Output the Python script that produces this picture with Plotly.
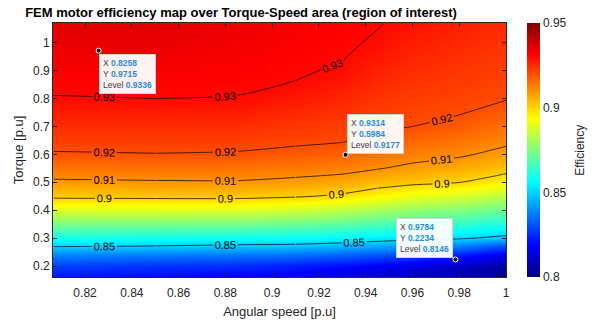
import plotly.graph_objects as go

# ---------------- data ----------------
speed = [0.8065, 0.85, 0.885, 0.91, 0.93, 0.945, 0.96, 0.98, 1.0]
torque = [0.16, 0.20, 0.24, 0.27, 0.30, 0.35, 0.40, 0.45, 0.50, 0.55,
          0.60, 0.65, 0.70, 0.75, 0.80, 0.85, 0.90, 0.95, 1.00, 1.07]

# efficiency per speed column (bottom -> top)
col_0806 = [0.822, 0.828, 0.838, 0.8503, 0.8592, 0.8741, 0.8890, 0.9018, 0.9088, 0.9142,
            0.9194, 0.9222, 0.9247, 0.9272, 0.9297, 0.9310, 0.9321, 0.9332, 0.9343, 0.9358]
col_0850 = [0.820, 0.826, 0.837, 0.8494, 0.8586, 0.8739, 0.8893, 0.9021, 0.9093, 0.9146,
            0.9198, 0.9224, 0.9249, 0.9275, 0.9300, 0.9311, 0.9322, 0.9333, 0.9344, 0.9356]
col_0885 = [0.818, 0.825, 0.836, 0.8480, 0.8578, 0.8734, 0.8891, 0.9022, 0.9094, 0.9145,
            0.9194, 0.9222, 0.9248, 0.9273, 0.9298, 0.9307, 0.9315, 0.9322, 0.9330, 0.9340]
col_0910 = [0.816, 0.823, 0.835, 0.8475, 0.8571, 0.8720, 0.8869, 0.9009, 0.9081, 0.9135,
            0.9181, 0.9213, 0.9234, 0.9255, 0.9277, 0.9298, 0.9305, 0.9311, 0.9317, 0.9325]
col_0930 = [0.813, 0.820, 0.833, 0.8457, 0.8557, 0.8700, 0.8843, 0.8986, 0.9066, 0.9124,
            0.9169, 0.9205, 0.9223, 0.9241, 0.9259, 0.9277, 0.9295, 0.9303, 0.9308, 0.9315]
col_0945 = [0.811, 0.818, 0.831, 0.8437, 0.8541, 0.8676, 0.8811, 0.8946, 0.9040, 0.9104,
            0.9144, 0.9184, 0.9209, 0.9223, 0.9237, 0.9251, 0.9266, 0.9280, 0.9294, 0.9303]
col_0960 = [0.808, 0.815, 0.829, 0.8416, 0.8526, 0.8655, 0.8784, 0.8912, 0.9020, 0.9084,
            0.9127, 0.9164, 0.9200, 0.9212, 0.9224, 0.9236, 0.9248, 0.9260, 0.9271, 0.9288]
col_0980 = [0.804, 0.8107, 0.8228, 0.8376, 0.8512, 0.8635, 0.8758, 0.8882, 0.9002, 0.9060,
            0.9111, 0.9146, 0.9181, 0.9204, 0.9214, 0.9224, 0.9234, 0.9244, 0.9254, 0.9268]
col_1000 = [0.801, 0.806, 0.816, 0.830, 0.8477, 0.8605, 0.8721, 0.8837, 0.8953, 0.9029,
            0.9077, 0.9117, 0.9148, 0.9180, 0.9203, 0.9212, 0.9221, 0.9229, 0.9238, 0.9250]

columns = [col_0806, col_0850, col_0885, col_0910, col_0930,
           col_0945, col_0960, col_0980, col_1000]
# z[row=torque][col=speed]
eff = [[columns[j][i] for j in range(len(speed))] for i in range(len(torque))]

line_levels = [0.85, 0.90, 0.91, 0.92, 0.93]

# data tips
tip_x = [0.8258, 0.9314, 0.9784]
tip_y = [0.9715, 0.5984, 0.2234]
tip_level = [0.9336, 0.9177, 0.8146]

x_ticks = [0.82, 0.84, 0.86, 0.88, 0.90, 0.92, 0.94, 0.96, 0.98, 1.0]
x_ticktext = ["0.82", "0.84", "0.86", "0.88", "0.9", "0.92", "0.94", "0.96", "0.98", "1"]
y_ticks = [0.2, 0.3, 0.4, 0.5, 0.6, 0.7, 0.8, 0.9, 1.0]
y_ticktext = ["0.2", "0.3", "0.4", "0.5", "0.6", "0.7", "0.8", "0.9", "1"]
cb_ticks = [0.80, 0.85, 0.90, 0.95]
cb_ticktext = ["0.8", "0.85", "0.9", "0.95"]

# ---------------- figure ----------------
FONT = "Liberation Sans, Arial, sans-serif"
TXT = "#262626"

jet = [[0.0, "rgb(0,0,128)"], [0.125, "rgb(0,0,255)"], [0.375, "rgb(0,255,255)"],
       [0.625, "rgb(255,255,0)"], [0.875, "rgb(255,0,0)"], [1.0, "rgb(128,0,0)"]]

fig = go.Figure()

fig.add_trace(go.Heatmap(
    x=speed, y=torque, z=eff, zmin=0.8, zmax=0.95, colorscale=jet,
    zsmooth="best", hoverinfo="skip",
    colorbar=dict(
        x=1.0464, xanchor="left", xref="paper", xpad=0, ypad=0,
        thickness=13, len=1.0, y=0.5, yanchor="middle", outlinewidth=0,
        tickvals=cb_ticks, ticktext=cb_ticktext, ticks="",
        tickfont=dict(family=FONT, size=12, color=TXT),
    ),
))

# contour lines drawn per level and per column segment so each stretch carries a label
segments_for_level = {
    0.85: [(0, 1), (1, 3), (3, 6), (6, 8)],
    0.90: [(0, 1), (1, 3), (3, 5), (5, 8)],
    0.91: [(0, 1), (1, 3), (3, 5), (5, 8)],
    0.92: [(0, 1), (1, 3), (3, 5), (5, 8)],
    0.93: [(0, 1), (1, 3), (3, 6), (6, 8)],
}
for lev in line_levels:
    for a, b in segments_for_level[lev]:
        xs = speed[a:b + 1]
        zs = [row[a:b + 1] for row in eff]
        fig.add_trace(go.Contour(
            x=xs, y=torque, z=zs, showscale=False, hoverinfo="skip",
            autocontour=False,
            contours=dict(start=lev, end=lev, size=0.01, coloring="none",
                          showlabels=True,
                          labelfont=dict(family=FONT, size=11, color="black")),
            line=dict(color="black", width=0.7, smoothing=0.6),
        ))

# data-tip points (on the overlay axis that carries the inside ticks)
fig.add_trace(go.Scatter(
    x=tip_x, y=tip_y, xaxis="x2", mode="markers", hoverinfo="skip",
    marker=dict(size=5, color="black", line=dict(color="white", width=1)),
))

anchors = [("left", "top", 0, -3), ("left", "bottom", 1, 1), ("right", "bottom", -2, 1)]
for (tx, ty, tl), (xa, ya, xs_, ys_) in zip(zip(tip_x, tip_y, tip_level), anchors):
    blue = "<span style='color:#1f8de0'><b>%s</b></span>"
    text = ("X " + blue % f"{tx:.4f}" + "<br>Y " + blue % f"{ty:.4f}"
            + "<br>Level " + blue % f"{tl:.4f}")
    fig.add_annotation(
        x=tx, y=ty, xref="x", yref="y", text=text, showarrow=False,
        xanchor=xa, yanchor=ya, xshift=xs_, yshift=ys_, align="left",
        bgcolor="rgba(255,255,255,0.95)", bordercolor="#d0d0d0", borderwidth=1,
        borderpad=3, font=dict(family=FONT, size=8.5, color="#404040"),
    )

fig.add_annotation(
    text="Efficiency", xref="paper", yref="paper", x=1.163, y=0.5,
    xanchor="center", yanchor="middle", textangle=-90, showarrow=False,
    font=dict(family=FONT, size=12, color=TXT),
)

tickfont = dict(family=FONT, size=12, color=TXT)
XRANGE = [0.8063, 1.0]

fig.update_layout(
    width=606, height=322,
    margin=dict(l=53, r=100, t=23, b=45, autoexpand=False),
    paper_bgcolor="white", plot_bgcolor="white",
    showlegend=False,
    title=dict(text="<b>FEM motor efficiency map over Torque-Speed area (region of interest)</b>",
               x=241 / 606, xref="container", xanchor="center",
               y=1 - 12 / 322, yref="container", yanchor="middle",
               font=dict(family=FONT, size=13, color="black")),
    # labelled x axis: invisible outside ticks push the labels down a little
    xaxis=dict(range=XRANGE, tickvals=x_ticks, ticktext=x_ticktext, automargin=False,
               showgrid=False, zeroline=False, showline=True, linecolor="#262626",
               linewidth=0.6, mirror=True, ticks="outside", ticklen=5,
               tickcolor="rgba(0,0,0,0)", tickfont=tickfont,
               title=dict(text="Angular speed [p.u]", standoff=7,
                          font=dict(family=FONT, size=13, color=TXT))),
    # overlay x axis carrying the inside tick marks (bottom and top)
    xaxis2=dict(overlaying="x", matches="x", anchor="y", side="bottom",
                range=XRANGE, tickvals=x_ticks, showticklabels=False, automargin=False,
                showgrid=False, zeroline=False, showline=False,
                mirror="allticks", ticks="inside", ticklen=4, tickwidth=0.6,
                tickcolor="#262626"),
    yaxis=dict(range=[0.1606, 1.0706], tickvals=y_ticks, ticktext=y_ticktext,
               automargin=False,
               showgrid=False, zeroline=False, showline=True, linecolor="#262626",
               linewidth=0.6, mirror="ticks", ticks="inside", ticklen=4, tickwidth=0.6,
               tickcolor="#262626", tickfont=tickfont,
               title=dict(text="Torque [p.u]", standoff=6,
                          font=dict(family=FONT, size=13, color=TXT))),
)

fig.write_html("out.html")
